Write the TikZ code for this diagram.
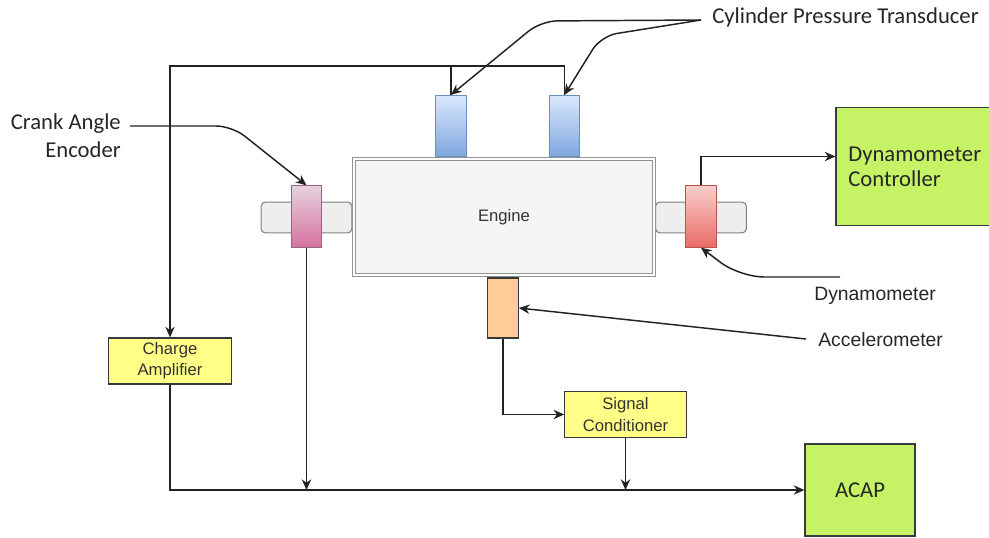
\documentclass[tikz,border=0pt]{standalone}
\usepackage{fontspec}
\setmainfont{Liberation Sans}
\newfontfamily\calib{Carlito}
\usetikzlibrary{arrows.meta}

\definecolor{lineC}{HTML}{222222}
\definecolor{engFill}{HTML}{F5F5F5}
\definecolor{shaftFill}{HTML}{EEEEEE}
\definecolor{yelFill}{HTML}{FFFF88}
\definecolor{grnFill}{HTML}{C6F266}
\definecolor{boxLine}{HTML}{36393D}
\definecolor{cylLine}{HTML}{6C8EBF}
\definecolor{cylTop}{HTML}{DAE8FC}
\definecolor{cylBot}{HTML}{7EA6E0}
\definecolor{crkLine}{HTML}{996185}
\definecolor{crkTop}{HTML}{E6D0DE}
\definecolor{crkBot}{HTML}{D5739D}
\definecolor{dynLine}{HTML}{B85450}
\definecolor{dynTop}{HTML}{F8CECC}
\definecolor{dynBot}{HTML}{EA6B66}
\definecolor{accFill}{HTML}{FFCC99}

\tikzset{
  arr/.style={draw=lineC, line width=1.1pt, -{Stealth[length=8pt,width=7pt]}},
  wire/.style={draw=lineC, line width=1.1pt},
  lbl/.style={font=\calib\fontsize{17}{21}\selectfont, text=black!85, inner sep=0pt},
  albl/.style={font=\fontsize{14.5}{17}\selectfont, text=black!85, inner sep=0pt},
  shaft/.style={draw=gray, line width=0.8pt, fill=shaftFill, rounded corners=3pt, minimum width=68pt, minimum height=23pt},
  sensor/.style={line width=0.8pt, minimum width=23pt, minimum height=46pt, inner sep=0pt},
  yelbox/.style={draw=boxLine, fill=yelFill, line width=0.9pt, align=center, text=black!80,
    font=\fontsize{12.5}{16}\selectfont, inner sep=0pt},
  grnbox/.style={draw=boxLine, fill=grnFill, line width=0.9pt, text=black!85,
    font=\calib\fontsize{17}{19}\selectfont, inner sep=0pt}
}

\begin{document}
\begin{tikzpicture}[x=0.75pt, y=-0.75pt]
    \useasboundingbox (0,0) rectangle (989,537);

    % ARBRES I MOTOR
    \node[shaft] (shaftL) at (306.5,217.5) {};
    \node[shaft] (shaftR) at (701,217.5) {};
    \node[draw=gray!85, line width=0.7pt, double=white, double distance=1.8pt, fill=engFill, minimum width=225pt,
          minimum height=87pt, font=\fontsize{12.5}{15}\selectfont, text=black!80] (engine) at (504,217) {Engine};

    % SENSORS
    \node[sensor, draw=cylLine, top color=cylTop, bottom color=cylBot] (cylA) at (451,126) {};
    \node[sensor, draw=cylLine, top color=cylTop, bottom color=cylBot] (cylB) at (564.5,126) {};
    \node[sensor, draw=crkLine, top color=crkTop, bottom color=crkBot] (crank) at (306.5,216.5) {};
    \node[sensor, draw=dynLine, top color=dynTop, bottom color=dynBot] (dyno) at (701,216.5) {};
    \node[sensor, draw=boxLine, fill=accFill, minimum height=45pt] (accel) at (503,308) {};

    % CAIXES
    \node[yelbox, minimum width=92pt, minimum height=34.5pt] (chargeamp) at (170,361) {Charge\\Amplifier};
    \node[yelbox, minimum width=91pt, minimum height=34pt] (sigcond) at (625.5,414.5) {Signal\\Conditioner};
    \node[grnbox, minimum width=82.5pt, minimum height=69pt] (acap) at (860,490) {ACAP};
    \node[grnbox, minimum width=115.5pt, minimum height=89pt, text width=97pt, align=left] (dynctrl) at (913,166.5) {Dynamometer\\Controller};

    % ETIQUETES
    \node[lbl, anchor=west] (lblCyl) at (712,17) {Cylinder Pressure Transducer};
    \node[lbl, anchor=east, align=right] (lblCrank) at (121,136) {Crank Angle\\Encoder};
    \node[albl] (lblDyno) at (875,296) {Dynamometer};
    \node[albl, anchor=west] (lblAcc) at (818,340) {Accelerometer};

    \coordinate (cylTail) at (701,20);
    \coordinate (crankTail) at (130,126);
    \coordinate (dynoTail) at (840,277);
    \coordinate (accTail) at (806,339);

    % FLETXES DE LES ETIQUETES
    \draw[arr, rounded corners=12pt] (cylTail) -- (541,21) -- (cylA.north);
    \draw[arr, rounded corners=12pt] (cylTail) -- (601,36) -- (cylB.north);
    \draw[arr, rounded corners=12pt] (crankTail) -- (232,126) -- (crank.north);
    \draw[arr, rounded corners=18pt] (dynoTail) -- (740,277) -- (dyno.south);
    \draw[arr] (accTail) -- (accel.east);

    % SENYALS
    \draw[wire] (cylA.north) -- (cylA.north |- 0,66);
    \draw[arr] (cylB.north) -- (cylB.north |- 0,66) -| (chargeamp.north);
    \draw[arr] (dyno.north) |- ([yshift=7.5pt]dynctrl.west);
    \draw[arr] (accel.south) |- (sigcond.west);
    \draw[arr] (sigcond.south) -- (sigcond.south |- acap.west);
    \draw[arr] (crank.south) -- (crank.south |- acap.west);
    \draw[arr] (chargeamp.south) |- (acap.west);

\end{tikzpicture}
\end{document}
